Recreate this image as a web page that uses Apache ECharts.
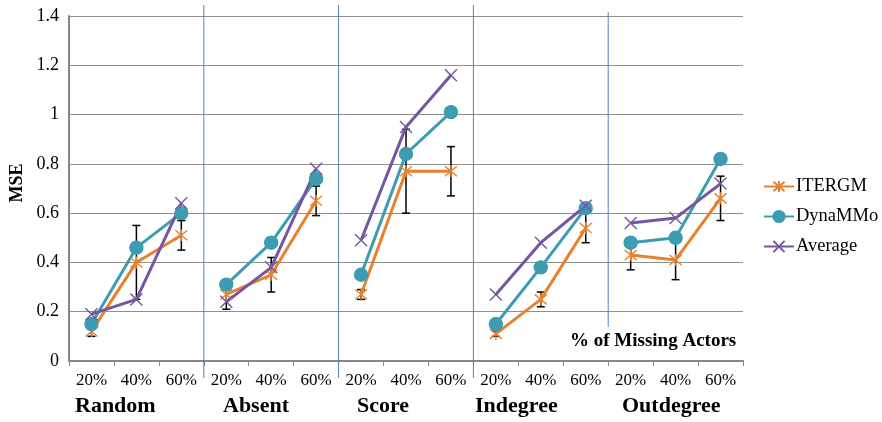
<!DOCTYPE html>
<html>
<head>
<meta charset="utf-8">
<script src="https://cdn.jsdelivr.net/npm/echarts@6/dist/echarts.min.js"></script>
<style>html,body{margin:0;padding:0;background:#fff;}#c{width:882px;height:422px;}</style>
</head>
<body>
<div id="c"></div>
<script>
const categories = ['20%','40%','60%','20%','40%','60%','20%','40%','60%','20%','40%','60%','20%','40%','60%'];
const groups = ['Random','Absent','Score','Indegree','Outdegree'];
const itergm  = [0.12,0.40,0.51, 0.27,0.35,0.65, 0.27,0.77,0.77, 0.11,0.25,0.54, 0.43,0.41,0.66];
const itergmErr = [0.02,0.15,0.06, 0.06,0.07,0.06, 0.02,0.17,0.10, 0.01,0.03,0.06, 0.06,0.08,0.09];
const dynammo = [0.15,0.46,0.60, 0.31,0.48,0.74, 0.35,0.84,1.01, 0.15,0.38,0.62, 0.48,0.50,0.82];
const average = [0.19,0.25,0.64, 0.24,0.38,0.78, 0.49,0.95,1.16, 0.27,0.48,0.63, 0.56,0.58,0.72];
const yTicks = {min: 0, max: 1.4, interval: 0.2};

const FONT = "'Liberation Serif','Times New Roman',serif";
const C_OR = '#E8812F', C_TE = '#3D9CB2', C_PU = '#7357A1';
const STAR = 'path://M0,0L10,10M10,0L0,10M5,-1L5,11';
const XMARK = 'path://M0,0L10,10M10,0L0,10';

const chart = echarts.init(document.getElementById('c'), null, {renderer: 'canvas'});

function groupSeries(name, values, color, symbol, size, extra) {
  const out = [];
  for (let g = 0; g < groups.length; g++) {
    const data = [];
    for (let i = g * 3; i < g * 3 + 3; i++) data.push([i, values[i]]);
    out.push(Object.assign({
      name: name, type: 'line', data: data, symbol: symbol, symbolSize: size,
      lineStyle: {color: color, width: 3},
      itemStyle: {color: color, borderColor: color, borderWidth: 1.4},
      emphasis: {disabled: true}, animation: false
    }, extra || {}));
  }
  return out;
}

const errData = itergm.map((v, i) => [i, v - itergmErr[i], v + itergmErr[i]]);

const series = [].concat(
  groupSeries('ITERGM', itergm, C_OR, STAR, 12, {itemStyle: {color: 'rgba(0,0,0,0)', borderColor: C_OR, borderWidth: 1.4}}),
  [{
    type: 'custom', name: 'err', data: errData, encode: {x: 0, y: [1, 2]}, z: 3,
    animation: false, silent: true,
    renderItem: function (params, api) {
      const lo = api.coord([api.value(0), api.value(1)]);
      const hi = api.coord([api.value(0), api.value(2)]);
      const w = 4;
      const st = {stroke: '#000', lineWidth: 1.5};
      return {type: 'group', children: [
        {type: 'line', shape: {x1: lo[0], y1: lo[1], x2: hi[0], y2: hi[1]}, style: st},
        {type: 'line', shape: {x1: lo[0] - w, y1: lo[1], x2: lo[0] + w, y2: lo[1]}, style: st},
        {type: 'line', shape: {x1: hi[0] - w, y1: hi[1], x2: hi[0] + w, y2: hi[1]}, style: st}
      ]};
    }
  }],
  groupSeries('DynaMMo', dynammo, C_TE, 'circle', 13),
  groupSeries('Average', average, C_PU, XMARK, 12, {itemStyle: {color: 'rgba(0,0,0,0)', borderColor: C_PU, borderWidth: 1.4}})
);

chart.setOption({
  animation: false,
  textStyle: {fontFamily: FONT},
  grid: {left: 69, right: 139, top: 16, bottom: 61},
  legend: {
    data: ['ITERGM', 'DynaMMo', 'Average'],
    orient: 'vertical', left: 763, top: 177, padding: 0,
    itemWidth: 30, itemHeight: 14, itemGap: 11,
    textStyle: {fontFamily: FONT, fontSize: 18.5, color: '#000', lineHeight: 19, padding: [0,0,0,-3]},
    selectedMode: false
  },
  xAxis: {
    type: 'category', data: categories, boundaryGap: true,
    axisLine: {lineStyle: {color: '#878787', width: 2}},
    axisTick: {show: true, length: 5, lineStyle: {color: '#878787', width: 1}},
    axisLabel: {color: '#000', fontFamily: FONT, fontSize: 17, margin: 11, interval: 0}
  },
  yAxis: {
    type: 'value', min: yTicks.min, max: yTicks.max, interval: yTicks.interval,
    axisLine: {show: true, lineStyle: {color: '#878787', width: 2}},
    axisTick: {show: false},
    axisLabel: {color: '#000', fontFamily: FONT, fontSize: 18, margin: 10},
    splitLine: {lineStyle: {color: '#8e8e8e', width: 1}}
  },
  series: series
});

function px(i) { return chart.convertToPixel({xAxisIndex: 0}, i); }
const seps = [3, 6, 9, 12].map(k => (px(k - 1) + px(k)) / 2);
const labelLefts = [75, 223, 357, 475, 622];
const graphics = [];
seps.forEach((x, j) => {
  const last = j === 3;
  graphics.push({type: 'line', silent: true, z: 50,
    shape: {x1: x, y1: last ? 12 : 5, x2: x, y2: last ? 327 : 378},
    style: {stroke: '#4F81BD', lineWidth: 1}});
});
groups.forEach((g, j) => {
  graphics.push({type: 'text', left: labelLefts[j], top: 395, silent: true,
    style: {text: g, font: 'bold 22px ' + FONT, fill: '#000'}});
});
graphics.push({type: 'text', left: 570, top: 332, silent: true, z: 60,
  style: {text: '% of Missing Actors', font: 'bold 19px ' + FONT, fill: '#000'}});
graphics.push({type: 'text', x: 17, y: 183, rotation: Math.PI / 2, silent: true,
  style: {text: 'MSE', font: 'bold 18px ' + FONT, fill: '#000', align: 'center', verticalAlign: 'middle'}});
chart.setOption({graphic: graphics});
</script>
</body>
</html>
